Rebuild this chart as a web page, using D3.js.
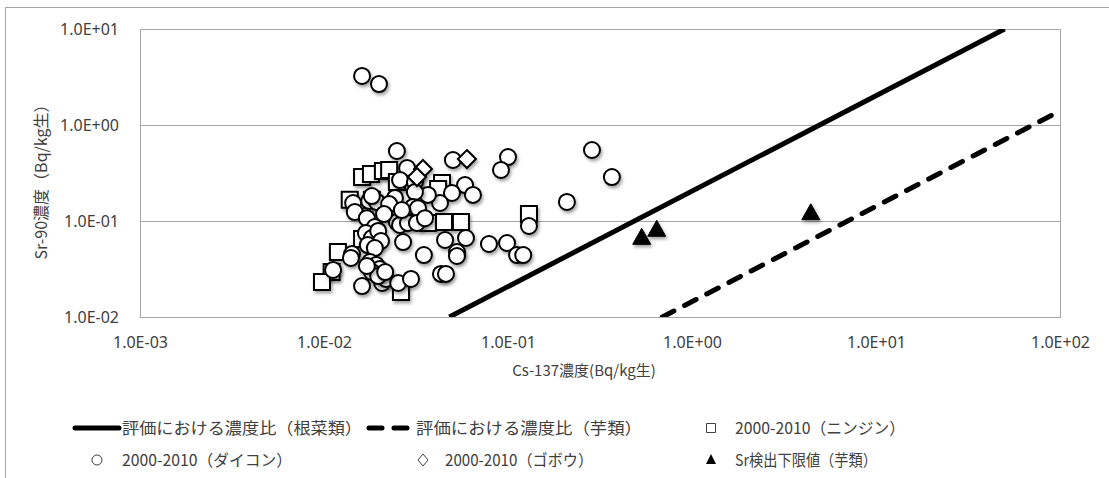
<!DOCTYPE html>
<html>
<head>
<meta charset="utf-8">
<script src="https://cdn.jsdelivr.net/npm/d3@7"></script>
<style>
body { margin: 0; background: #fff; }
text { font-family: "Noto Sans CJK JP", "Noto Sans", sans-serif; fill: #404040; }
</style>
</head>
<body>
<svg id="chart" width="1109" height="478"></svg>
<script>
// axis ticks
var xTicks = [1e-3, 1e-2, 1e-1, 1e0, 1e1, 1e2];
var xTickLabels = ["1.0E-03", "1.0E-02", "1.0E-01", "1.0E+00", "1.0E+01", "1.0E+02"];
var yTicks = [1e-2, 1e-1, 1e0, 1e1];
var yTickLabels = ["1.0E-02", "1.0E-01", "1.0E+00", "1.0E+01"];

// ratio lines (Cs-137, Sr-90) end points
var rootLine = [[0.048, 0.01], [50, 10]];
var tuberLine = [[0.69, 0.01], [100, 1.4]];

// 2000-2010 ninjin (Cs-137, Sr-90)
var ninjin = [[0.0161,0.287],[0.0180,0.309],[0.0209,0.332],[0.0226,0.340],[0.0249,0.255],
  [0.0305,0.255],[0.0438,0.249],[0.0417,0.216],[0.0138,0.166],[0.0182,0.166],
  [0.0243,0.121],[0.0367,0.0953],[0.0449,0.0976],[0.0555,0.0976],[0.130,0.118],
  [0.0161,0.0650],[0.0119,0.0475],[0.0110,0.0294],[0.00975,0.0232],[0.0262,0.0182]];

// 2000-2010 daikon
var daikon = [[0.0161,3.24],[0.0199,2.67],[0.0249,0.536],[0.286,0.549],[0.100,0.464],
  [0.0502,0.432],[0.367,0.287],[0.0916,0.340],[0.209,0.158],[0.0283,0.356],
  [0.0259,0.267],[0.0312,0.255],[0.0584,0.237],[0.0645,0.187],[0.0496,0.196],
  [0.0427,0.154],[0.0367,0.187],[0.0312,0.200],[0.0243,0.174],[0.0144,0.154],
  [0.0176,0.162],[0.0194,0.158],[0.0182,0.182],[0.0305,0.140],[0.0324,0.136],
  [0.0147,0.124],[0.0171,0.107],[0.0189,0.0866],[0.0249,0.0976],[0.0259,0.0909],
  [0.0286,0.0953],[0.0320,0.0953],[0.0354,0.107],[0.130,0.0887],[0.0269,0.0604],
  [0.0455,0.0634],[0.0591,0.0665],[0.0788,0.0576],[0.0988,0.0590],[0.112,0.0442],
  [0.121,0.0442],[0.0349,0.0442],[0.0528,0.0475],[0.0528,0.0432],[0.0142,0.0453],
  [0.0140,0.0412],[0.0112,0.0309],[0.0161,0.0210],[0.0207,0.0226],[0.0217,0.0249],
  [0.0253,0.0226],[0.0297,0.0249],[0.0432,0.0281],[0.0460,0.0281],[0.0169,0.075],
  [0.0182,0.0665],[0.0197,0.0787],[0.0204,0.0619],[0.0173,0.0562],[0.0189,0.0523],
  [0.0178,0.0374],[0.0192,0.0348],[0.0201,0.0316],[0.0182,0.0294],[0.0197,0.0267],
  [0.0215,0.0294],[0.0171,0.0340],[0.0226,0.150],[0.0265,0.130],[0.0212,0.118]];

// 2000-2010 gobou
var gobou = [[0.0345,0.348],[0.0598,0.442],[0.0320,0.287]];

// Sr detection limit (tubers)
var srLimit = [[0.533,0.0676],[0.643,0.082],[4.42,0.122]];

var legendRow1 = ["評価における濃度比（根菜類）", "評価における濃度比（芋類）", "2000-2010（ニンジン）"];
var legendRow2 = ["2000-2010（ダイコン）", "2000-2010（ゴボウ）", "Sr検出下限値（芋類）"];

var svg = d3.select("#chart");
var plotLeft = 140, plotRight = 1060, plotTop = 29, plotBottom = 317;

var x = d3.scaleLog().domain([1e-3, 1e2]).range([plotLeft, plotRight]);
var y = d3.scaleLog().domain([1e-2, 1e1]).range([plotBottom, plotTop]);

var defs = svg.append("defs");
defs.append("clipPath").attr("id", "plotClip")
  .append("rect").attr("x", plotLeft).attr("y", plotTop)
  .attr("width", plotRight - plotLeft).attr("height", plotBottom - plotTop);
var f = defs.append("filter").attr("id", "shadow")
  .attr("x", "-50%").attr("y", "-50%").attr("width", "200%").attr("height", "200%");
f.append("feDropShadow").attr("dx", 1.5).attr("dy", 2.5).attr("stdDeviation", 1.6)
  .attr("flood-color", "#000").attr("flood-opacity", 0.35);

// outer border
svg.append("rect").attr("x", 5.5).attr("y", 7.5).attr("width", 1200).attr("height", 600)
  .attr("fill", "none").attr("stroke", "#a6a6a6");

// grid
svg.append("g").selectAll("line").data(yTicks.slice(1, 3)).enter()
  .append("line")
  .attr("x1", plotLeft).attr("x2", plotRight)
  .attr("y1", function(d) { return Math.round(y(d)) + 0.5; })
  .attr("y2", function(d) { return Math.round(y(d)) + 0.5; })
  .attr("stroke", "#a6a6a6").attr("stroke-width", 1);

svg.append("rect").attr("x", plotLeft + 0.5).attr("y", plotTop + 0.5)
  .attr("width", plotRight - plotLeft).attr("height", plotBottom - plotTop)
  .attr("fill", "none").attr("stroke", "#a6a6a6");

// axes
var xAxis = d3.axisBottom(x).tickValues(xTicks).tickSize(0)
  .tickFormat(function(d, i) { return xTickLabels[i]; });
var gx = svg.append("g").attr("transform", "translate(0," + (plotBottom + 17) + ")").call(xAxis);
gx.select(".domain").remove();
gx.selectAll("text").attr("font-size", 16).attr("fill", "#595959")
  .style("font-family", "'Noto Sans', sans-serif");

var yAxis = d3.axisLeft(y).tickValues(yTicks).tickSize(0)
  .tickFormat(function(d, i) { return yTickLabels[i]; });
var gy = svg.append("g").attr("transform", "translate(" + (plotLeft - 18) + ",0)").call(yAxis);
gy.select(".domain").remove();
gy.selectAll("text").attr("font-size", 16).attr("fill", "#595959")
  .style("font-family", "'Noto Sans', sans-serif");

// axis titles
svg.append("text").attr("x", 584).attr("y", 376).attr("text-anchor", "middle")
  .attr("font-size", 15).text("Cs-137濃度(Bq/kg生)");
svg.append("text").attr("transform", "translate(47,178) rotate(-90)")
  .attr("text-anchor", "middle").attr("font-size", 16).text("Sr-90濃度（Bq/kg生）");

// ratio lines
var line = d3.line().x(function(d) { return x(d[0]); }).y(function(d) { return y(d[1]); });
var plot = svg.append("g").attr("clip-path", "url(#plotClip)");
plot.append("path").datum(rootLine).attr("d", line)
  .attr("fill", "none").attr("stroke", "#000").attr("stroke-width", 5);
plot.append("path").datum(tuberLine).attr("d", line)
  .attr("fill", "none").attr("stroke", "#000").attr("stroke-width", 5)
  .attr("stroke-dasharray", "13,12").attr("stroke-linecap", "round");

// marker shapes
var squarePath = "M-8,-8H8V8H-8Z";
var diamondPath = "M0,-9L9,0L0,9L-9,0Z";
var trianglePath = "M0,-9L9,7L-9,7Z";

plot.append("g").selectAll("path").data(ninjin).enter()
  .append("path").attr("d", squarePath)
  .attr("transform", function(d) { return "translate(" + x(d[0]) + "," + y(d[1]) + ")"; })
  .attr("fill", "#fff").attr("stroke", "#000").attr("stroke-width", 2)
  .attr("filter", "url(#shadow)");

plot.append("g").selectAll("circle").data(daikon).enter()
  .append("circle")
  .attr("cx", function(d) { return x(d[0]); })
  .attr("cy", function(d) { return y(d[1]); })
  .attr("r", 8)
  .attr("fill", "#fff").attr("stroke", "#000").attr("stroke-width", 2)
  .attr("filter", "url(#shadow)");

plot.append("g").selectAll("path").data(gobou).enter()
  .append("path").attr("d", diamondPath)
  .attr("transform", function(d) { return "translate(" + x(d[0]) + "," + y(d[1]) + ")"; })
  .attr("fill", "#fff").attr("stroke", "#000").attr("stroke-width", 2)
  .attr("filter", "url(#shadow)");

plot.append("g").selectAll("path").data(srLimit).enter()
  .append("path").attr("d", trianglePath)
  .attr("transform", function(d) { return "translate(" + x(d[0]) + "," + y(d[1]) + ")"; })
  .attr("fill", "#000").attr("stroke", "#000").attr("stroke-width", 1)
  .attr("filter", "url(#shadow)");

// legend
var row1 = 428, row2 = 460;
var lg = svg.append("g");
lg.append("line").attr("x1", 75).attr("x2", 119).attr("y1", row1).attr("y2", row1)
  .attr("stroke", "#000").attr("stroke-width", 5).attr("stroke-linecap", "round");
lg.append("line").attr("x1", 369).attr("x2", 411).attr("y1", row1).attr("y2", row1)
  .attr("stroke", "#000").attr("stroke-width", 5).attr("stroke-linecap", "round")
  .attr("stroke-dasharray", "13,12");
lg.append("path").attr("d", "M-4.5,-4.5H4.5V4.5H-4.5Z")
  .attr("transform", "translate(711," + row1 + ")")
  .attr("fill", "#fff").attr("stroke", "#404040").attr("stroke-width", 1);
lg.append("circle").attr("cx", 97).attr("cy", row2).attr("r", 5)
  .attr("fill", "#fff").attr("stroke", "#404040").attr("stroke-width", 1);
lg.append("path").attr("d", "M0,-6L5,0L0,6L-5,0Z")
  .attr("transform", "translate(423," + row2 + ")")
  .attr("fill", "#fff").attr("stroke", "#404040").attr("stroke-width", 1);
lg.append("path").attr("d", "M0,-5L5,5L-5,5Z")
  .attr("transform", "translate(711," + (row2 - 1) + ")")
  .attr("fill", "#000");

var row1X = [122, 416, 735], row1W = [240, 226, 170];
var row2X = [122, 445, 735], row2W = [170, 148, 142];
lg.selectAll(".r1").data(legendRow1).enter().append("text")
  .attr("x", function(d, i) { return row1X[i]; }).attr("y", row1 + 6)
  .attr("font-size", 16)
  .attr("textLength", function(d, i) { return row1W[i]; })
  .attr("lengthAdjust", "spacingAndGlyphs")
  .text(function(d) { return d; });
lg.selectAll(".r2").data(legendRow2).enter().append("text")
  .attr("x", function(d, i) { return row2X[i]; }).attr("y", row2 + 6)
  .attr("font-size", 16)
  .attr("textLength", function(d, i) { return row2W[i]; })
  .attr("lengthAdjust", "spacingAndGlyphs")
  .text(function(d) { return d; });
</script>
</body>
</html>
